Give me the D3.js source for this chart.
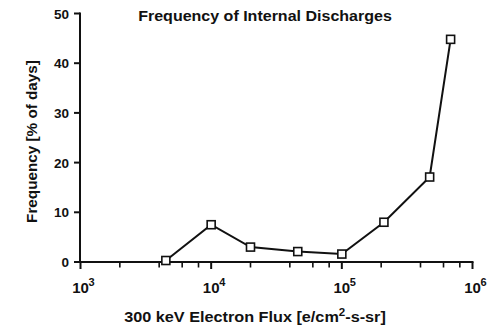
<!DOCTYPE html>
<html><head><meta charset="utf-8">
<script src="https://cdn.jsdelivr.net/npm/d3@7"></script>
<style>
body{margin:0;background:#fff;}
text{font-family:"Liberation Sans",Arial,Helvetica,sans-serif;font-weight:bold;fill:#111;}
</style></head>
<body><svg id="c" width="500" height="327"></svg>
<script>
const fluxValues = [4500, 10000, 20000, 46000, 100000, 210000, 470000, 680000];
const frequencyValues = [0.3, 7.5, 3.0, 2.1, 1.6, 8.0, 17.1, 44.8];
const yTicks = [0, 10, 20, 30, 40, 50];
const xMajorExponents = [3, 4, 5, 6];
const xMinorMultipliers = [2, 4, 6, 8];
const titleText = "Frequency of Internal Discharges";
const yTitleText = "Frequency [% of days]";

const svg = d3.select("#c");
const x = d3.scaleLog().domain([1e3, 1e6]).range([80.5, 472.5]);
const y = d3.scaleLinear().domain([0, 50]).range([262, 13.5]);

// fit text horizontally (in its own frame) to a target width
function fitWidth(sel, cx, target) {
  const w = sel.node().getBBox().width;
  const s = target / w;
  sel.attr("transform", `translate(${cx},0) scale(${s},1) translate(${-cx},0)`);
}

// y axis
const ya = svg.append("g");
ya.append("line").attr("x1", 80).attr("x2", 80).attr("y1", y(50) - 1).attr("y2", y(0) + 1)
  .attr("stroke", "#111").attr("stroke-width", 2);
yTicks.forEach(t => {
  ya.append("line").attr("x1", 74).attr("x2", 80).attr("y1", y(t)).attr("y2", y(t))
    .attr("stroke", "#111").attr("stroke-width", 2);
  ya.append("text").attr("x", 69).attr("y", y(t) + 5).attr("text-anchor", "end")
    .attr("font-size", 13.5).text(t);
});

// x axis
const xa = svg.append("g");
xa.append("line").attr("x1", 79).attr("x2", x(1e6) + 1).attr("y1", 262).attr("y2", 262)
  .attr("stroke", "#111").attr("stroke-width", 2);
xMajorExponents.forEach(e => {
  const v = Math.pow(10, e);
  xa.append("line").attr("x1", x(v)).attr("x2", x(v)).attr("y1", 262).attr("y2", 269)
    .attr("stroke", "#111").attr("stroke-width", 2);
  xa.append("text").attr("x", x(v)).attr("y", 293).attr("text-anchor", "middle")
    .attr("font-size", 15).text("10");
  xa.append("text").attr("x", x(v) + 8).attr("y", 286).attr("text-anchor", "start")
    .attr("font-size", 11).text(e);
});
xMajorExponents.slice(0, -1).forEach(e => {
  xMinorMultipliers.forEach(m => {
    const v = m * Math.pow(10, e);
    xa.append("line").attr("x1", x(v)).attr("x2", x(v)).attr("y1", 262).attr("y2", 267.5)
      .attr("stroke", "#111").attr("stroke-width", 1.6);
  });
});

// data line
const pts = fluxValues.map((f, i) => [f, frequencyValues[i]]);
svg.append("path").datum(pts)
  .attr("d", d3.line().x(d => x(d[0])).y(d => y(d[1])))
  .attr("fill", "none").attr("stroke", "#111").attr("stroke-width", 2);
svg.selectAll("rect.m").data(pts).enter().append("rect").attr("class", "m")
  .attr("x", d => x(d[0]) - 4).attr("y", d => y(d[1]) - 4)
  .attr("width", 8).attr("height", 8)
  .attr("fill", "#fff").attr("stroke", "#111").attr("stroke-width", 1.6);

// titles
const tt = svg.append("text").attr("x", 265).attr("y", 21.5).attr("text-anchor", "middle")
  .attr("font-size", 14.5).text(titleText);
fitWidth(tt, 265, 254);

const xt = svg.append("text").attr("x", 255).attr("y", 322.5).attr("text-anchor", "middle")
  .attr("font-size", 15.5);
xt.append("tspan").text("300 keV Electron Flux [e/cm");
xt.append("tspan").attr("dy", -6).attr("font-size", 11).text("2");
xt.append("tspan").attr("dy", 6).text("-s-sr]");
fitWidth(xt, 255, 262);

const ytg = svg.append("g").attr("transform", "translate(36.5,141.5) rotate(-90)");
const yt = ytg.append("text").attr("x", 0).attr("y", 0).attr("text-anchor", "middle")
  .attr("font-size", 15).text(yTitleText);
fitWidth(yt, 0, 163);
</script></body></html>
